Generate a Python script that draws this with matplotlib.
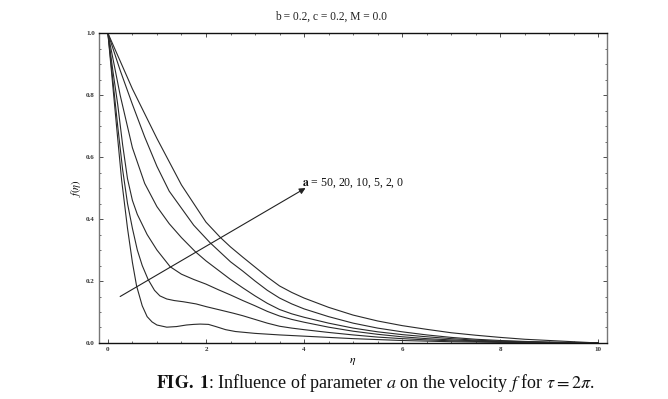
import matplotlib
matplotlib.use("Agg")
import matplotlib.pyplot as plt
from matplotlib.ticker import MultipleLocator, FuncFormatter

# ---- data ----
a_values = [50, 20, 10, 5, 2, 0]

eta_a50 = [0, 0.1, 0.2, 0.28, 0.4, 0.5, 0.585, 0.7, 0.8, 0.9, 1.0, 1.2, 1.4, 1.6, 1.75, 1.88, 2.05, 2.2, 2.4, 2.6, 2.8, 3.0, 3.5, 4.0, 4.5, 5.0, 5.5, 6.0, 6.5, 7.0, 8.0, 9.0, 10.0]
f_a50 = [1.0, 0.83, 0.66, 0.526, 0.37, 0.26, 0.184, 0.12, 0.085, 0.068, 0.058, 0.051, 0.053, 0.058, 0.060, 0.061, 0.060, 0.053, 0.043, 0.037, 0.034, 0.031, 0.026, 0.022, 0.018, 0.014, 0.011, 0.008, 0.006, 0.004, 0.002, 0.0008, 0.0]

eta_a20 = [0, 0.1, 0.2, 0.3, 0.4, 0.5, 0.6, 0.7, 0.82, 0.95, 1.06, 1.2, 1.35, 1.54, 1.8, 2.01, 2.3, 2.56, 2.75, 3.0, 3.25, 3.5, 3.75, 4.0, 4.5, 5.0, 5.5, 6.0, 6.5, 7.0, 7.5, 8.0, 9.0, 10.0]
f_a20 = [1.0, 0.85, 0.70, 0.56, 0.45, 0.37, 0.30, 0.25, 0.205, 0.170, 0.152, 0.142, 0.137, 0.133, 0.126, 0.117, 0.106, 0.096, 0.088, 0.076, 0.064, 0.054, 0.048, 0.043, 0.034, 0.026, 0.019, 0.014, 0.010, 0.007, 0.005, 0.003, 0.001, 0.0]

eta_a10 = [0, 0.1, 0.2, 0.3, 0.4, 0.5, 0.6, 0.8, 1.0, 1.27, 1.5, 1.75, 2.0, 2.25, 2.5, 2.75, 3.0, 3.25, 3.5, 3.75, 4.0, 4.5, 5.0, 5.5, 6.0, 6.5, 7.0, 7.5, 8.0, 9.0, 10.0]
f_a10 = [1.0, 0.88, 0.77, 0.64, 0.53, 0.46, 0.415, 0.35, 0.30, 0.246, 0.222, 0.205, 0.19, 0.172, 0.155, 0.137, 0.12, 0.102, 0.087, 0.076, 0.067, 0.051, 0.038, 0.028, 0.020, 0.014, 0.010, 0.007, 0.004, 0.0015, 0.0]

eta_a5 = [0, 0.25, 0.5, 0.75, 1.0, 1.25, 1.5, 1.78, 2.0, 2.25, 2.5, 2.75, 3.0, 3.25, 3.5, 3.75, 4.0, 4.5, 5.0, 5.5, 6.0, 6.5, 7.0, 7.5, 8.0, 8.5, 9.0, 9.5, 10.0]
f_a5 = [1.0, 0.80, 0.63, 0.515, 0.44, 0.385, 0.34, 0.295, 0.265, 0.235, 0.205, 0.178, 0.152, 0.128, 0.108, 0.094, 0.083, 0.064, 0.048, 0.036, 0.027, 0.020, 0.014, 0.009, 0.006, 0.004, 0.002, 0.001, 0.0]

eta_a2 = [0, 0.25, 0.5, 0.75, 1.0, 1.25, 1.5, 1.75, 2.08, 2.5, 2.75, 3.0, 3.25, 3.5, 3.75, 4.0, 4.5, 5.0, 5.5, 6.0, 6.5, 7.0, 7.5, 8.0, 8.5, 9.0, 9.5, 10.0]
f_a2 = [1.0, 0.88, 0.77, 0.665, 0.57, 0.49, 0.435, 0.38, 0.324, 0.262, 0.232, 0.20, 0.17, 0.145, 0.126, 0.11, 0.085, 0.064, 0.048, 0.036, 0.026, 0.018, 0.012, 0.008, 0.005, 0.003, 0.0015, 0.0]

eta_a0 = [0, 0.25, 0.5, 0.75, 1.0, 1.25, 1.5, 1.75, 2.0, 2.29, 2.5, 2.75, 3.0, 3.25, 3.5, 3.75, 4.0, 4.5, 5.0, 5.5, 6.0, 6.5, 7.0, 7.5, 8.0, 8.5, 9.0, 9.5, 10.0]
f_a0 = [1.0, 0.91, 0.82, 0.74, 0.66, 0.585, 0.51, 0.45, 0.39, 0.341, 0.31, 0.277, 0.245, 0.213, 0.184, 0.163, 0.145, 0.115, 0.09, 0.071, 0.056, 0.044, 0.033, 0.025, 0.018, 0.012, 0.008, 0.004, 0.0]

series = [(eta_a50, f_a50), (eta_a20, f_a20), (eta_a10, f_a10),
          (eta_a5, f_a5), (eta_a2, f_a2), (eta_a0, f_a0)]

arrow_start = (0.25, 0.15)
arrow_end = (4.03, 0.50)
arrow_label = r"$\mathbf{a}$ = 50, 20, 10, 5, 2, 0"
title_text = "b = 0.2, c = 0.2, M = 0.0"
caption = r"$\mathbf{FIG.\ 1}$: Influence of parameter $a$ on the velocity $f$ for $\tau = 2\pi$."

# ---- figure ----
plt.rcParams['font.family'] = ['Liberation Serif', 'DejaVu Serif']
plt.rcParams['mathtext.fontset'] = 'stix'

fig = plt.figure(figsize=(6.68, 3.99), dpi=100)
ax = fig.add_axes([0.148, 0.1404, 0.761, 0.7766])

for eta, f in series:
    ax.plot(eta, f, color='#2a2a2a', lw=0.8)

ax.annotate('', xy=arrow_end, xytext=arrow_start,
            arrowprops=dict(arrowstyle='-|>', color='#222222', lw=0.8,
                            mutation_scale=9, shrinkA=0, shrinkB=0))
ax.text(3.96, 0.516, arrow_label, fontsize=8.5, ha='left', va='center', color='#111111')

ax.set_xlim(-0.184, 10.18)
ax.set_ylim(0, 1.0)
ax.xaxis.set_major_locator(MultipleLocator(2))
ax.xaxis.set_minor_locator(MultipleLocator(0.5))
ax.yaxis.set_major_locator(MultipleLocator(0.2))
ax.yaxis.set_minor_locator(MultipleLocator(0.05))
ax.tick_params(which='both', direction='in', top=True, right=True,
               labelsize=5, colors='#333333', pad=3)
ax.tick_params(which='major', length=3, width=0.6)
ax.tick_params(which='minor', length=1.5, width=0.5)
ax.xaxis.set_major_formatter(FuncFormatter(lambda v, p: f"{v:.0f}"))
ax.yaxis.set_major_formatter(FuncFormatter(lambda v, p: f"{v:.1f}"))
for lbl in ax.get_xticklabels() + ax.get_yticklabels():
    lbl.set_fontweight('bold')

for side in ['top', 'bottom']:
    ax.spines[side].set_color('#111111')
    ax.spines[side].set_linewidth(1.0)
for side in ['left', 'right']:
    ax.spines[side].set_color('#777777')
    ax.spines[side].set_linewidth(1.0)

ax.set_xlabel(r"$\eta$", fontsize=8.5, labelpad=2)
ax.set_ylabel(r"$f(\eta)$", fontsize=7.5, labelpad=2)

fig.text(331 / 668, 1 - 17 / 399, title_text, fontsize=8.3, ha='center', va='center', color='#222222')
fig.text(375 / 668, 1 - 383 / 399, caption, fontsize=13, ha='center', va='center', color='#111111')

fig.savefig("out.png", dpi=100)
